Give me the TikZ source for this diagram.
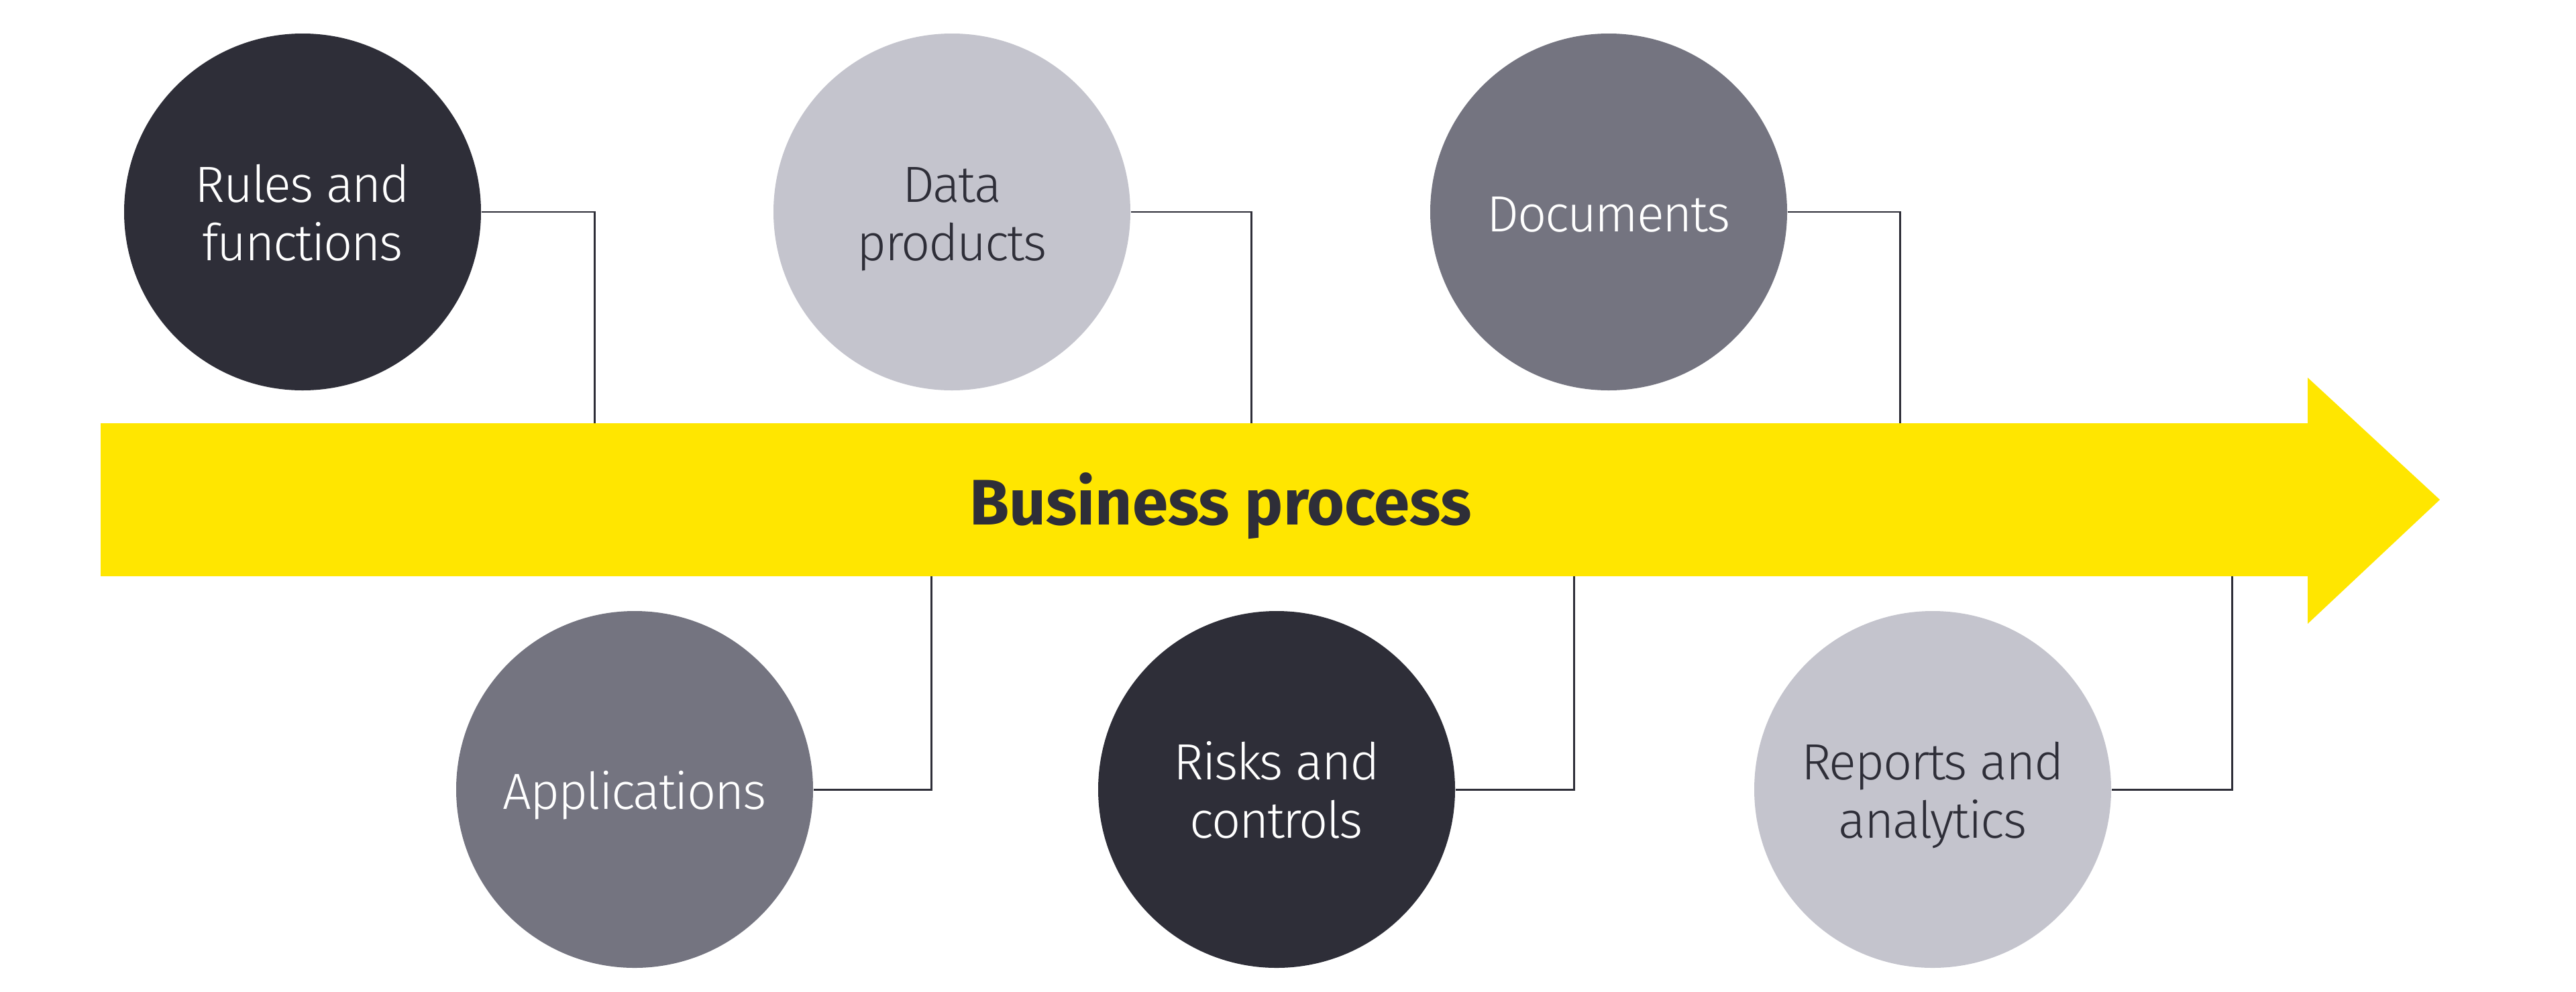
\documentclass[tikz,border=0pt]{standalone}
\usepackage{fontspec}
\setmainfont{Fira Sans}[UprightFont=* Light, BoldFont=* Bold]
\newfontfamily\bubblefont{Fira Sans}[UprightFont=* Light, LetterSpace=-3]
\newcommand\topS{\rule{0pt}{22.5pt}}
\newcommand\botS{\rule[-5.8pt]{0pt}{5.8pt}}
\definecolor{eydark}{HTML}{2E2E38}
\definecolor{eygray}{HTML}{747480}
\definecolor{eylight}{HTML}{C4C4CD}
\definecolor{eyyellow}{HTML}{FFE600}
\tikzset{
  bubble/.style={circle, minimum size=5.32cm, inner sep=0pt, align=center,
    font=\bubblefont\fontsize{21.6}{24.7}\selectfont},
  bdark/.style={bubble, fill=eydark, text=white},
  bgray/.style={bubble, fill=eygray, text=white},
  blight/.style={bubble, fill=eylight, text=eydark},
  conn/.style={draw=eydark, line width=0.85pt},
  band/.style={fill=eyyellow},
  bandtext/.style={font=\fontsize{27.3}{30}\selectfont\bfseries, text=eydark, anchor=base, inner sep=0pt}
}
\begin{document}
\begin{tikzpicture}
\useasboundingbox (0,0) rectangle (38.4,-14.78);
% circles
\node[bdark]  (rules)   at (4.51,-3.16)  {\topS Rules and\\functions\botS};
\node[blight] (data)    at (14.19,-3.16) {\topS Data\\products\botS};
\node[bgray]  (docs)    at (23.98,-3.16) {\topS Documents\botS};
\node[bgray]  (apps)    at (9.46,-11.77) {\topS Applications\botS};
\node[bdark]  (risks)   at (19.03,-11.77) {\topS Risks and\\controls\botS};
\node[blight] (reports) at (28.81,-11.77) {\topS Reports and\\analytics\botS};
% connector end points on the band
\coordinate (t1) at (8.86,-6.40);
\coordinate (t2) at (18.65,-6.40);
\coordinate (t3) at (28.32,-6.40);
\coordinate (b1) at (13.88,-8.50);
\coordinate (b2) at (23.46,-8.50);
\coordinate (b3) at (33.27,-8.50);
\draw[conn] (rules.east) -| (t1);
\draw[conn] (data.east) -| (t2);
\draw[conn] (docs.east) -| (t3);
\draw[conn] (apps.east) -| (b1);
\draw[conn] (risks.east) -| (b2);
\draw[conn] (reports.east) -| (b3);
% arrow band
\fill[band] (1.50,-6.31) -- (34.40,-6.31) -- (34.40,-5.63) -- (36.37,-7.45)
  -- (34.40,-9.30) -- (34.40,-8.59) -- (1.50,-8.59) -- cycle;
\node[bandtext] (bp) at (18.195,-7.82) {Business process};
\end{tikzpicture}
\end{document}
